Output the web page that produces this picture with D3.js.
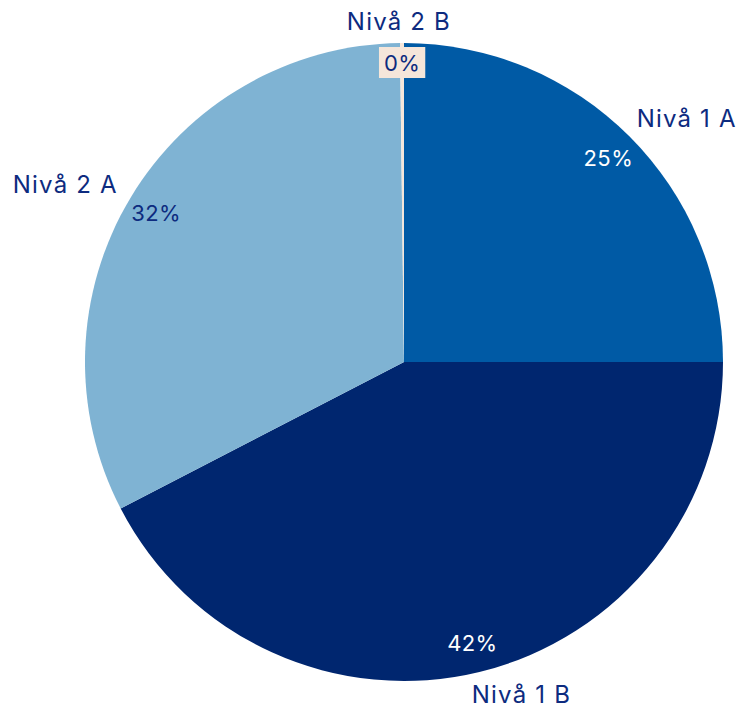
<!DOCTYPE html>
<html><head><meta charset="utf-8">
<script src="https://cdn.jsdelivr.net/npm/d3@7"></script>
<style>body{margin:0;background:#fff}svg{display:block}</style>
</head><body>
<script>
const categories = ["Nivå 1 A", "Nivå 1 B", "Nivå 2 A", "Nivå 2 B"];
const values = [25.0, 42.4, 32.4, 0.2];
const percentLabels = ["25%", "42%", "32%", "0%"];
const colors = ["#005aa5", "#00266f", "#7fb3d3", "#f5e6da"];
const pctColors = ["#ffffff", "#ffffff", "#0d2b7f", "#0d2b7f"];

const W = 741, H = 710, cx = 404, cy = 362, R = 319;
const textColor = "#0d2b7f";
const font = "Inter, 'Noto Sans', sans-serif";

const svg = d3.select("body").append("svg").attr("width", W).attr("height", H);
const g = svg.append("g").attr("transform", `translate(${cx},${cy})`);

const data = categories.map((c, i) => ({cat: c, value: values[i], pct: percentLabels[i], color: colors[i], pc: pctColors[i]}));
const pie = d3.pie().value(d => d.value).sort(null);
const arcs = pie(data);
const arc = d3.arc().innerRadius(0).outerRadius(R);

g.selectAll("path.slice").data(arcs).enter().append("path")
  .attr("class", "slice").attr("d", arc).attr("fill", d => d.data.color);

const pctR = 289;
arcs.forEach((a, i) => {
  const m = (a.startAngle + a.endAngle) / 2;
  const r = i === 3 ? 299 : pctR;
  const x = Math.sin(m) * r, y = -Math.cos(m) * r;
  const t = g.append("text").attr("x", x).attr("y", y)
    .attr("text-anchor", "middle").attr("dominant-baseline", "central")
    .attr("font-family", font).attr("font-size", 22).attr("letter-spacing", 0.4)
    .attr("fill", a.data.pc).text(a.data.pct);
  if (i === 3) {
    const bb = t.node().getBBox();
    g.insert("rect", "text").attr("x", bb.x - 5).attr("y", bb.y - 3)
      .attr("width", bb.width + 10).attr("height", bb.height + 5)
      .attr("fill", a.data.color);
  }
  // outer label
  const lr = R + 10;
  const lx = Math.sin(m) * lr, ly = -Math.cos(m) * lr;
  let anchor = "middle", dx = 0, dy = 0, base = "alphabetic";
  if (Math.abs(lx) < 20) { anchor = "middle"; dx = -3; dy = -3; }
  else if (ly > 0) { anchor = "start"; dx = -10; base = "hanging"; dy = 3; }
  else if (lx > 0) { anchor = "start"; dy = -2; }
  else { anchor = "end"; dx = -4; }
  g.append("text").attr("x", lx + dx).attr("y", ly + dy)
    .attr("text-anchor", anchor).attr("dominant-baseline", base)
    .attr("font-family", font).attr("font-size", 24).attr("letter-spacing", 1.2)
    .attr("fill", textColor).text(a.data.cat);
});
</script>
</body></html>
